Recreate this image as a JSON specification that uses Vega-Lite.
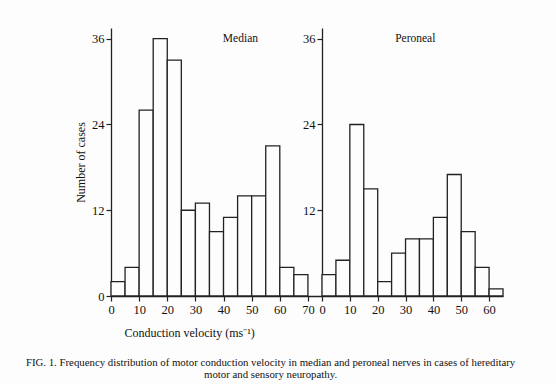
{
  "$schema": "https://vega.github.io/schema/vega-lite/v6.json",
  "padding": {"left": 25, "top": 28, "right": 44, "bottom": 5},
  "background": "#fdfdfd",
  "bounds": "flush",
  "spacing": 0,
  "config": {
    "font": "Liberation Serif",
    "view": {"stroke": null},
    "axis": {
      "domainColor": "#222",
      "domainWidth": 1.3,
      "tickColor": "#222",
      "tickWidth": 1.2,
      "tickSize": 5,
      "tickCount": 20,
      "grid": false,
      "labelFont": "Liberation Serif",
      "labelFontSize": 12.5,
      "labelColor": "#111",
      "labelPadding": 2,
      "labelFlush": false,
      "labelOverlap": false,
      "titleFont": "Liberation Serif",
      "titleFontSize": 12,
      "titleFontWeight": "normal",
      "titleColor": "#111"
    }
  },
  "datasets": {
    "median": [
      {"lo": 0, "hi": 5, "n": 2},
      {"lo": 5, "hi": 10, "n": 4},
      {"lo": 10, "hi": 15, "n": 26},
      {"lo": 15, "hi": 20, "n": 36},
      {"lo": 20, "hi": 25, "n": 33},
      {"lo": 25, "hi": 30, "n": 12},
      {"lo": 30, "hi": 35, "n": 13},
      {"lo": 35, "hi": 40, "n": 9},
      {"lo": 40, "hi": 45, "n": 11},
      {"lo": 45, "hi": 50, "n": 14},
      {"lo": 50, "hi": 55, "n": 14},
      {"lo": 55, "hi": 60, "n": 21},
      {"lo": 60, "hi": 65, "n": 4},
      {"lo": 65, "hi": 70, "n": 3}
    ],
    "peroneal": [
      {"lo": 0, "hi": 5, "n": 3},
      {"lo": 5, "hi": 10, "n": 5},
      {"lo": 10, "hi": 15, "n": 24},
      {"lo": 15, "hi": 20, "n": 15},
      {"lo": 20, "hi": 25, "n": 2},
      {"lo": 25, "hi": 30, "n": 6},
      {"lo": 30, "hi": 35, "n": 8},
      {"lo": 35, "hi": 40, "n": 8},
      {"lo": 40, "hi": 45, "n": 11},
      {"lo": 45, "hi": 50, "n": 17},
      {"lo": 50, "hi": 55, "n": 9},
      {"lo": 55, "hi": 60, "n": 4},
      {"lo": 60, "hi": 65, "n": 1}
    ]
  },
  "title": {
    "text": [
      "FIG. 1. Frequency distribution of motor conduction velocity in median and peroneal nerves in cases of hereditary",
      "motor and sensory neuropathy."
    ],
    "orient": "bottom",
    "anchor": "middle",
    "offset": 18,
    "dx": -18.5,
    "font": "Liberation Serif",
    "fontSize": 10.8,
    "fontWeight": "normal",
    "color": "#111",
    "lineHeight": 12.5
  },
  "hconcat": [
    {
      "width": 211,
      "height": 268,
      "data": {"name": "median"},
      "layer": [
        {
          "mark": {"type": "rect", "fill": "#fdfdfd", "stroke": "#222", "strokeWidth": 1.3},
          "encoding": {
            "x": {
              "field": "lo",
              "type": "quantitative",
              "scale": {"domain": [0, 75], "nice": false},
              "axis": {
                "values": [0, 10, 20, 30, 40, 50, 60, 70],
                "tickCount": 20,
                "title": "Conduction velocity (ms⁻¹)",
                "titleAnchor": "start",
                "titleX": 13,
                "titlePadding": 12
              }
            },
            "x2": {"field": "hi"},
            "y": {
              "field": "n",
              "type": "quantitative",
              "scale": {"domain": [0, 37.5], "nice": false},
              "axis": {
                "values": [0, 12, 24, 36],
                "tickCount": 20,
                "title": "Number of cases",
                "titlePadding": 4
              }
            },
            "y2": {"datum": 0}
          }
        },
        {
          "data": {"values": [{"panel": "Median", "x": 46, "y": 36}]},
          "mark": {"type": "text", "font": "Liberation Serif", "fontSize": 11.5, "color": "#111", "baseline": "middle"},
          "encoding": {
            "x": {"field": "x", "type": "quantitative"},
            "y": {"field": "y", "type": "quantitative"},
            "text": {"field": "panel"}
          }
        }
      ]
    },
    {
      "width": 181,
      "height": 268,
      "data": {"name": "peroneal"},
      "layer": [
        {
          "mark": {"type": "rect", "fill": "#fdfdfd", "stroke": "#222", "strokeWidth": 1.3},
          "encoding": {
            "x": {
              "field": "lo",
              "type": "quantitative",
              "scale": {"domain": [0, 65], "nice": false},
              "axis": {"values": [0, 10, 20, 30, 40, 50, 60], "tickCount": 20, "title": null}
            },
            "x2": {"field": "hi"},
            "y": {
              "field": "n",
              "type": "quantitative",
              "scale": {"domain": [0, 37.5], "nice": false},
              "axis": {"values": [12, 24, 36], "tickCount": 20, "title": null}
            },
            "y2": {"datum": 0}
          }
        },
        {
          "data": {"values": [{"panel": "Peroneal", "x": 33.5, "y": 36}]},
          "mark": {"type": "text", "font": "Liberation Serif", "fontSize": 11.5, "color": "#111", "baseline": "middle"},
          "encoding": {
            "x": {"field": "x", "type": "quantitative"},
            "y": {"field": "y", "type": "quantitative"},
            "text": {"field": "panel"}
          }
        }
      ]
    }
  ]
}
